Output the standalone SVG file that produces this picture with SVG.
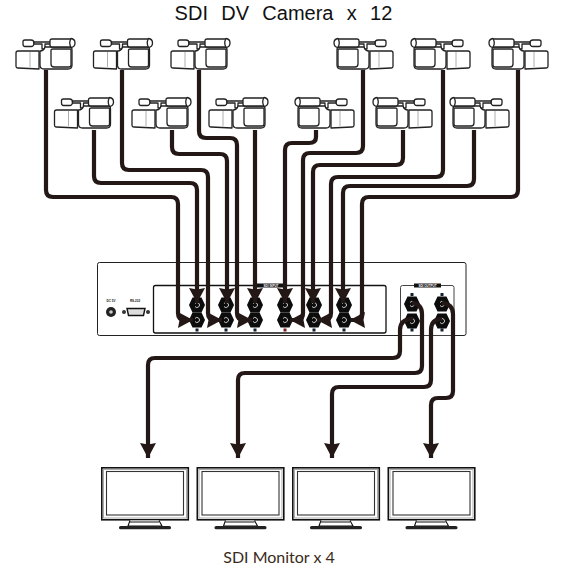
<svg xmlns="http://www.w3.org/2000/svg" width="561" height="569" viewBox="0 0 561 569">
<style>
.w{fill:none;stroke:#231815;stroke-width:4.2;stroke-linejoin:round}
.c{fill:#fff;stroke:#222;stroke-width:1.3;stroke-linejoin:round}
.t{font-family:"Liberation Sans",Arial,sans-serif;fill:#111}
.s{font-family:"Liberation Sans",Arial,sans-serif;font-size:3px;font-weight:bold;fill:#111;text-anchor:middle}
.v{font-family:"Liberation Sans",Arial,sans-serif;font-size:3px;font-weight:bold;fill:#fff;text-anchor:middle}
.h{fill:#0c0c0c}
.a{fill:none;stroke:#ddd;stroke-width:.9}
.p{fill:#123}
</style>
<defs>
<marker id="ah" markerUnits="userSpaceOnUse" markerWidth="17" markerHeight="17" refX="15" refY="8.500" orient="auto"><path d="M0 0.500L15 8.500L0 16.500L1.500 8.500Z" fill="#231815"/></marker>
<g id="cam">
<path class="c" d="M0 15Q0 13 2 13L23 13V31L2 30Q0 30 0 28Z"/>
<path fill="none" stroke="#999" stroke-width=".8" d="M14 14V29"/>
<path class="c" d="M7 3.500Q7 2 9 2H15Q18 2 18 5Q18 8.500 15 8.500H9Q7 8.500 7 6Z"/>
<path class="c" d="M18 4H36V6H29V11H26V6H18Z"/>
<path class="c" d="M24 13Q28 13 29 9H54Q56 9 56 12V27Q56 31 52 31H28Q24 31 24 27Z"/>
<path class="c" d="M35 12Q35 11 37 11H54Q55 11 55 12V27Q55 29 53 29H38Q35 29 35 26Z"/>
<path class="c" d="M34 3Q34 1 36 1H55V9H36Q34 9 34 7Z"/>
<path class="c" d="M55 .5Q59 1 59 5Q59 9 55 9.500Q52.500 5 55 .5Z"/>
</g>
<g id="mon">
<rect x="0.800" y="0.800" width="86.500" height="52" fill="#fff" stroke="#111" stroke-width="1.600"/>
<rect x="2.500" y="2.500" width="83" height="48.500" fill="none" stroke="#aaa" stroke-width="1"/>
<rect x="5.500" y="4.500" width="77" height="43.500" fill="#fff" stroke="#333" stroke-width="1.100"/>
<path d="M29 53.500L27 59H61L58 53.500" fill="#fff" stroke="#111" stroke-width="1.100"/>
<path d="M29 55H58" stroke="#111" stroke-width="1"/>
<rect x="18" y="59" width="52" height="3.300" rx="1.600" fill="#222"/>
</g>
<g id="bnc">
<path class="h" d="M-4.500 -7.500H4.500L8 0L4.500 7.500H-4.500L-8 0Z"/>
<path class="a" d="M-2 -1.500A2.500 2.500 0 1 1 -2 1.500"/>
</g>
</defs>
<rect width="561" height="569" fill="#fff"/>
<text class="t" x="283.500" y="20" font-size="20" text-anchor="middle" word-spacing="1.100" xml:space="preserve">SDI  DV  Camera  x  12</text>
<g id="device">
<rect x="97.500" y="262.500" width="368.500" height="73" rx="2" fill="#fff" stroke="#222" stroke-width="1"/>
<rect x="153.500" y="285.500" width="232.500" height="47.500" rx="2" fill="#fff" stroke="#111" stroke-width="1.300"/>
<rect x="400.500" y="285.500" width="53.500" height="50" rx="2" fill="#fff" stroke="#444" stroke-width="1"/>
<rect x="256" y="283.500" width="30" height="4" fill="#111"/><text class="v" x="271" y="286.800">SDI INPUT</text>
<rect x="414" y="283.500" width="27" height="4" fill="#111"/><text class="v" x="427.500" y="286.800">SDI OUTPUT</text>
<circle cx="111" cy="312" r="5" fill="#222"/><circle cx="111" cy="312" r="1.800" fill="#ccc"/>
<circle cx="124" cy="312" r="2" fill="#333"/><circle cx="148" cy="312" r="2" fill="#333"/>
<path d="M127 308.500H145L143.500 315.500H128.500Z" fill="#ddd" stroke="#111" stroke-width="1.400"/>
<text class="s" x="111" y="302">DC 5V</text>
<text class="s" x="135" y="302">RS-232</text>
<g class="p"><rect x="195.500" y="328.500" width="3" height="3"/><rect x="224.500" y="328.500" width="3" height="3"/><rect x="253.500" y="328.500" width="3" height="3"/><rect x="283.500" y="328.500" width="3" height="3" fill="#722"/><rect x="312.500" y="328.500" width="3" height="3"/><rect x="342.500" y="328.500" width="3" height="3"/><rect x="410.500" y="293" width="3" height="3"/><rect x="440.500" y="293" width="3" height="3"/><rect x="410.500" y="328.500" width="3" height="3"/><rect x="440.500" y="328.500" width="3" height="3"/></g>
</g>
<g id="connectors">
<use href="#bnc" x="197" y="305"/><use href="#bnc" x="226" y="305"/><use href="#bnc" x="255" y="305"/><use href="#bnc" x="285" y="305"/><use href="#bnc" x="314" y="305"/><use href="#bnc" x="344" y="305"/>
<use href="#bnc" x="197" y="320"/><use href="#bnc" x="226" y="320"/><use href="#bnc" x="255" y="320"/><use href="#bnc" x="285" y="320"/><use href="#bnc" x="314" y="320"/><use href="#bnc" x="344" y="320"/>
<use href="#bnc" x="412" y="304"/><use href="#bnc" x="442" y="304"/><use href="#bnc" x="412" y="321"/><use href="#bnc" x="442" y="321"/>
<g class="w" marker-end="url(#ah)">
<path d="M46 70V190Q46 197 53 197H171Q178 197 178 204V313Q178 320 185 320H193"/>
<path d="M94 130V176Q94 183 101 183H190Q197 183 197 190V303"/>
<path d="M122 70V163Q122 170 129 170H201Q208 170 208 177V313Q208 320 215 320H222"/>
<path d="M172 130V147Q172 154 179 154H220Q227 154 227 161V303"/>
<path d="M199 70V131Q199 138 206 138H230Q237 138 237 145V313Q237 320 244 320H252"/>
<path d="M255 130V303"/>
<path d="M316 130V137Q316 143 309 143H292Q285 143 285 150V303"/>
<path d="M363 70V146Q363 153 356 153H310Q303 153 303 160V313Q303 320 296 320H290"/>
<path d="M403 130V158Q403 165 396 165H320Q313 165 313 172V303"/>
<path d="M443 70V170Q443 177 436 177H338Q331 177 331 184V313Q331 320 324 320H317"/>
<path d="M474 130V179Q474 186 467 186H350Q343 186 343 193V303"/>
<path d="M518 70V190Q518 197 511 197H369Q362 197 362 204V313Q362 320 355 320H350"/>
</g>
<g class="w" marker-end="url(#ah)">
<path d="M413 319Q400 319 400 330V351Q400 358 393 358H155Q148 358 148 365V458"/>
<path d="M412 303Q422 304 422 314V366Q422 373 415 373H245Q238 373 238 380V458"/>
<path d="M442 319Q431 319 431 330V380Q431 387 424 387H339Q332 387 332 394V458"/>
<path d="M442 303Q453 304 453 314V391Q453 398 446 398H438Q431 398 431 405V458"/>
</g>
</g>
<g id="cam1"><use href="#cam" x="16" y="38"/></g>
<g id="cam2"><use href="#cam" x="93.500" y="38"/></g>
<g id="cam3"><use href="#cam" x="171" y="38"/></g>
<g id="cam4"><use href="#cam" x="54.500" y="97"/></g>
<g id="cam5"><use href="#cam" x="132" y="97"/></g>
<g id="cam6"><use href="#cam" x="209" y="97"/></g>
<g id="cam7"><use href="#cam" transform="translate(354 97) scale(-1 1)"/></g>
<g id="cam8"><use href="#cam" transform="translate(432 97) scale(-1 1)"/></g>
<g id="cam9"><use href="#cam" transform="translate(509 97) scale(-1 1)"/></g>
<g id="cam10"><use href="#cam" transform="translate(393 38) scale(-1 1)"/></g>
<g id="cam11"><use href="#cam" transform="translate(470 38) scale(-1 1)"/></g>
<g id="cam12"><use href="#cam" transform="translate(548 38) scale(-1 1)"/></g>
<g id="mon1"><use href="#mon" x="101" y="467"/></g>
<g id="mon2"><use href="#mon" x="196.500" y="467"/></g>
<g id="mon3"><use href="#mon" x="292" y="467"/></g>
<g id="mon4"><use href="#mon" x="387.500" y="467"/></g>
<text x="279" y="563" font-size="16" text-anchor="middle" font-family="Lato,'Open Sans',sans-serif" fill="#3a2a20">SDI Monitor x 4</text>
</svg>
